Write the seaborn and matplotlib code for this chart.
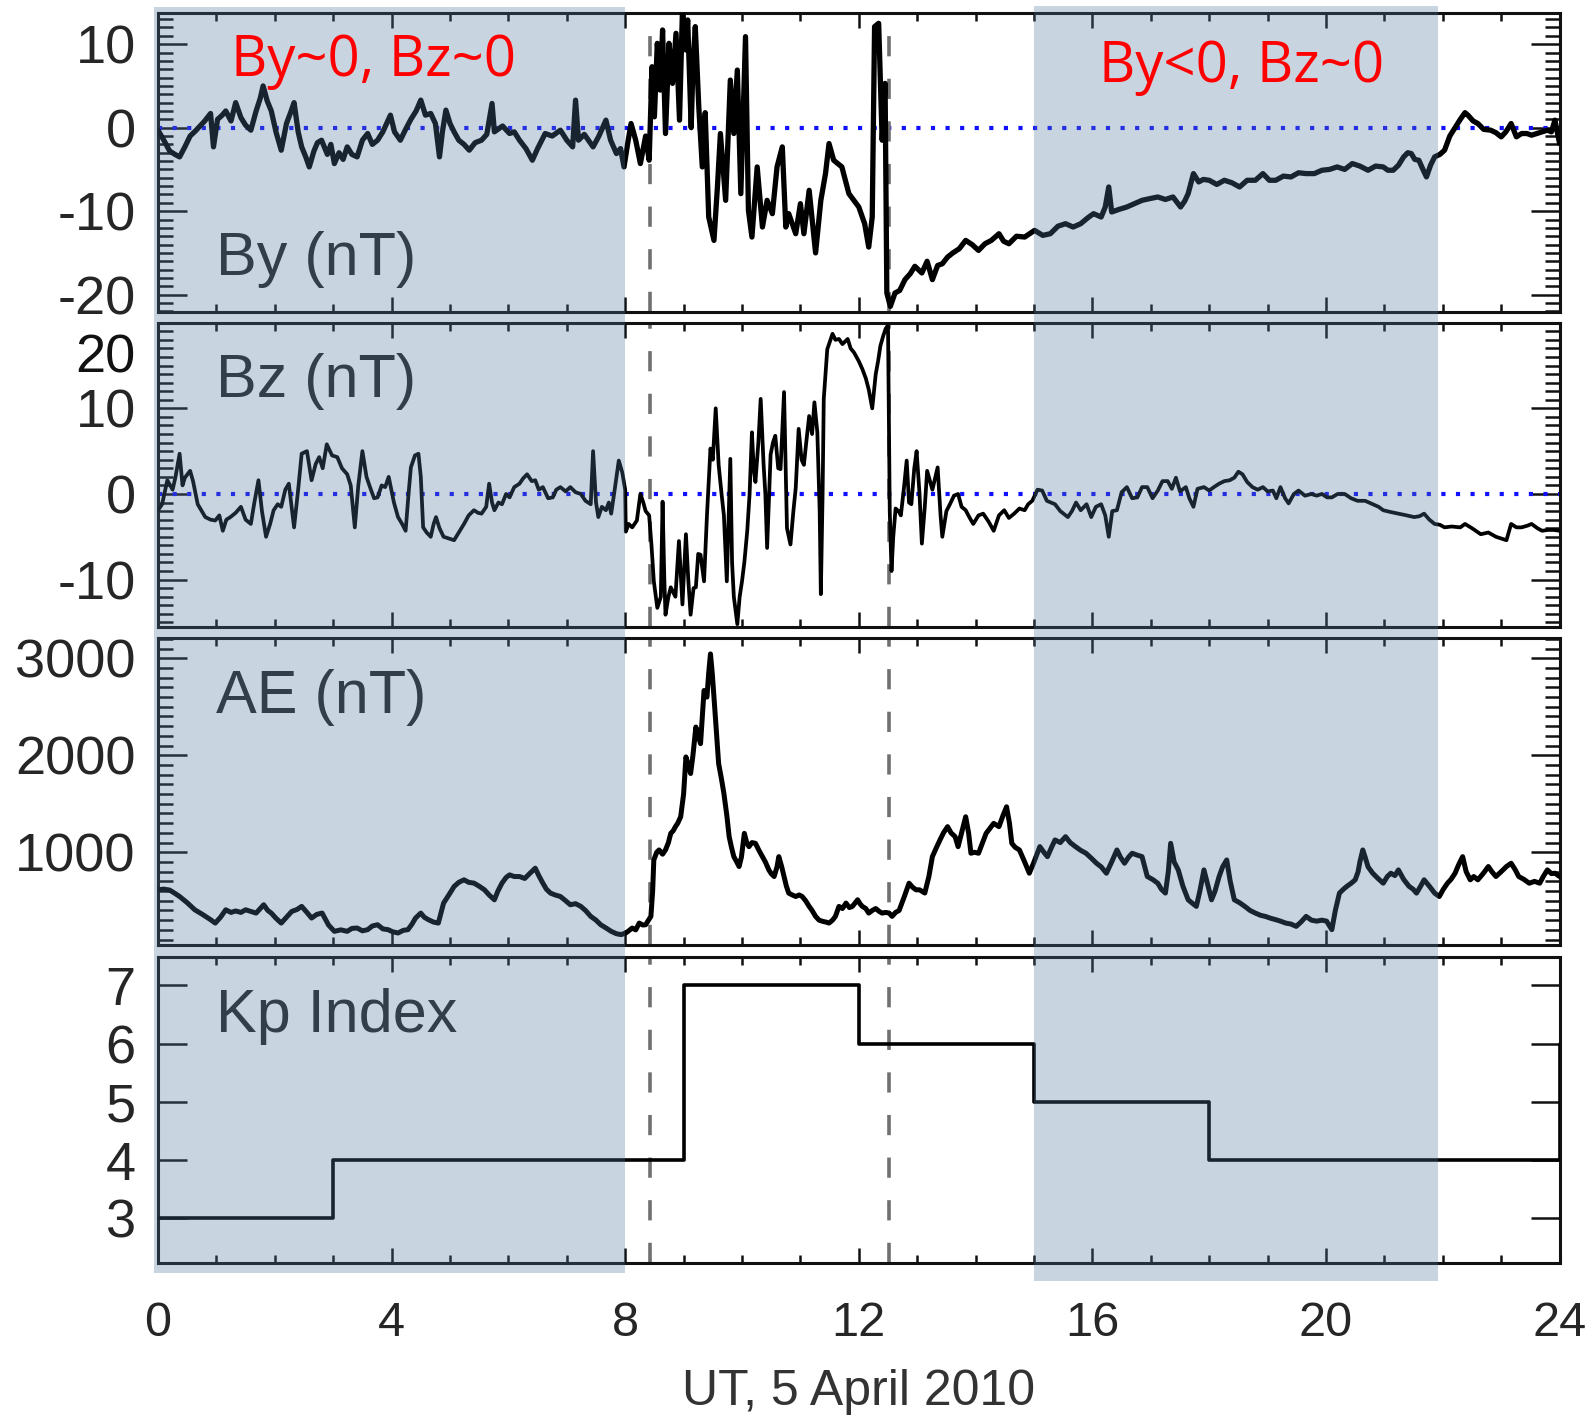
import numpy as np
import pandas as pd
import matplotlib
matplotlib.use("Agg")
import matplotlib.pyplot as plt
import seaborn as sns
from matplotlib.ticker import MultipleLocator, FixedLocator
from matplotlib.patches import Rectangle
from matplotlib.transforms import blended_transform_factory

# ---------------- data ----------------
by_t = [0.0,0.1,0.2,0.29,0.37,0.46,0.55,0.64,0.72,0.8,0.9,0.95,1.02,1.1,1.16,1.25,1.33,1.42,1.5,1.59,
        1.68,1.75,1.8,1.87,1.94,2.02,2.11,2.2,2.27,2.33,2.4,2.46,2.53,2.59,2.67,2.73,2.8,2.9,2.96,3.02,
        3.1,3.17,3.24,3.32,3.41,3.5,3.59,3.67,3.76,3.85,3.98,4.05,4.15,4.24,4.33,4.42,4.5,4.58,4.67,4.75,
        4.82,4.87,4.93,5.0,5.07,5.15,5.24,5.33,5.43,5.54,5.63,5.72,5.76,5.8,5.9,6.02,6.1,6.19,6.3,6.41,
        6.5,6.63,6.75,6.89,7.0,7.1,7.15,7.2,7.3,7.45,7.55,7.67,7.75,7.85,7.92,7.98,
        8.04,8.1,8.18,8.26,8.35,8.41,8.46,8.5,8.55,8.6,8.64,8.69,8.75,8.81,8.87,8.93,8.98,9.04,9.07,9.13,
        9.16,9.2,9.26,9.32,9.37,9.43,9.52,9.58,9.63,9.72,9.8,9.86,9.92,9.98,10.06,10.11,10.17,10.26,10.35,10.43,
        10.52,10.6,10.69,10.75,10.8,10.92,11.0,11.06,11.15,11.26,11.35,11.43,11.49,11.57,11.71,11.83,12.0,12.1,12.17,12.23,
        12.27,12.34,12.4,12.45,12.48,12.54,12.62,12.7,12.79,12.88,12.96,
        13.08,13.17,13.26,13.35,13.43,13.52,13.61,13.72,13.83,13.94,14.05,14.16,14.27,14.4,14.48,14.57,14.7,14.84,15.01,15.15,
        15.28,15.41,15.54,15.67,15.8,15.92,16.02,16.15,16.22,16.28,16.33,16.45,16.59,16.72,16.85,16.98,17.12,17.25,17.38,17.51,
        17.58,17.64,17.73,17.82,17.9,18.0,18.13,18.26,18.39,18.52,18.65,18.79,18.92,19.03,19.14,19.27,19.4,19.53,19.66,19.8,
        19.93,20.06,20.19,20.32,20.45,20.58,20.72,20.85,20.98,21.06,21.15,21.24,21.33,21.4,21.46,21.52,21.59,21.66,21.72,21.79,
        21.86,21.95,22.03,22.12,22.21,22.3,22.38,22.43,22.52,22.6,22.7,22.82,22.91,23.0,23.08,23.17,23.22,23.26,23.35,23.44,
        23.52,23.61,23.7,23.79,23.86,23.92,24.0]
by_v = [-0.3,-1.5,-2.8,-3.2,-3.5,-2.3,-1.0,-0.4,0.2,0.8,1.7,-2.3,1.0,1.5,2.0,0.8,3.0,1.2,0.3,-0.3,
        2.0,3.5,5.0,3.2,2.0,-0.5,-2.7,0.5,1.8,3.0,-0.5,-2.3,-3.5,-4.7,-2.8,-1.8,-1.5,-3.2,-2.0,-4.3,
        -3.0,-3.8,-2.3,-3.2,-3.5,-1.5,-0.7,-2.0,-1.5,-0.5,1.5,-0.5,-1.5,-0.2,1.0,2.0,3.3,1.5,1.7,0.5,
        -3.5,-0.5,2.1,0.5,-0.5,-1.5,-2.0,-2.7,-1.8,-1.5,-0.8,2.9,-0.5,-0.3,0.2,-0.7,-0.5,-1.5,-2.5,-3.9,
        -2.5,-0.7,-1.0,-0.3,-1.5,-2.3,3.3,-1.5,-0.8,-2.3,-1.0,0.9,-1.5,-3.1,-2.5,-4.7,
        -2.0,0.5,-1.5,-4.3,-1.0,-3.9,7.3,1.3,10.1,4.5,11.7,-0.7,10.1,5.3,11.3,0.9,14.0,9.3,12.9,0.0,
        7.3,12.1,2.5,-4.7,1.8,-10.7,-13.5,-7.0,-0.7,-8.7,5.7,-0.7,6.9,-7.9,10.9,-9.9,-13.1,-4.7,-11.9,-8.7,
        -10.3,-4.7,-2.3,-11.9,-10.3,-12.7,-9.1,-12.7,-7.5,-15.0,-8.7,-5.5,-1.9,-3.9,-4.7,-7.9,-9.5,-11.5,-14.3,-10.7,
        12.1,12.5,-1.5,5.3,-19.8,-21.4,-19.8,-19.5,-18.2,-17.5,-16.6,
        -17.4,-16.0,-18.2,-16.5,-16.3,-15.5,-15.0,-14.5,-13.5,-14.0,-14.7,-13.9,-13.5,-12.7,-13.6,-13.9,-13.0,-13.1,-12.3,-12.9,
        -12.7,-11.8,-11.5,-11.9,-11.5,-10.8,-10.3,-10.7,-9.5,-7.1,-10.1,-9.8,-9.5,-9.1,-8.7,-8.5,-8.3,-8.6,-8.3,-9.5,
        -8.8,-7.9,-5.5,-6.5,-6.2,-6.3,-6.8,-6.3,-6.6,-7.1,-6.3,-6.3,-5.5,-6.3,-6.3,-5.8,-5.9,-5.4,-5.5,-5.5,
        -5.1,-5.0,-4.7,-5.0,-4.3,-4.6,-5.1,-4.6,-4.7,-5.1,-5.1,-4.5,-3.5,-3.0,-3.1,-3.8,-3.9,-5.0,-5.9,-4.5,
        -3.5,-3.2,-2.7,-1.0,0.0,1.0,1.8,1.5,0.8,0.5,-0.2,-0.3,-0.6,-1.1,-0.5,0.5,-0.4,-1.1,-0.7,-0.7,
        -0.9,-0.7,-0.5,-0.3,-0.5,0.9,-1.9]

bz_t = [0.0,0.07,0.16,0.25,0.3,0.37,0.42,0.46,0.55,0.6,0.68,0.75,0.81,0.9,0.98,1.05,1.11,1.17,1.24,1.33,
        1.42,1.5,1.59,1.65,1.72,1.78,1.85,1.92,1.98,2.05,2.11,2.18,2.24,2.33,2.4,2.46,2.55,2.63,2.7,2.76,
        2.82,2.89,2.98,3.07,3.15,3.24,3.3,3.37,3.43,3.5,3.57,3.63,3.7,3.76,3.83,3.89,3.95,4.04,4.11,4.18,
        4.24,4.29,4.33,4.4,4.46,4.5,4.54,4.6,4.67,4.72,4.76,4.82,4.89,4.98,5.07,5.15,5.24,5.32,5.41,5.48,
        5.54,5.62,5.67,5.72,5.76,5.83,5.89,5.96,6.02,6.1,6.19,6.25,6.32,6.4,6.46,6.52,6.59,6.68,6.76,6.82,
        6.89,6.98,7.06,7.15,7.24,7.32,7.41,7.45,7.5,7.54,7.6,7.67,7.72,7.76,7.82,7.89,7.95,8.0,
        8.01,8.06,8.12,8.2,8.26,8.31,8.35,8.41,8.45,8.49,8.55,8.61,8.64,8.67,8.69,8.74,8.78,8.86,8.92,8.98,
        9.04,9.08,9.12,9.17,9.21,9.25,9.29,9.35,9.4,9.46,9.5,9.55,9.6,9.65,9.69,9.74,9.77,9.8,9.83,9.86,
        9.92,9.96,10.0,10.04,10.09,10.13,10.17,10.2,10.23,10.28,10.32,10.37,10.4,10.43,10.49,10.53,10.57,10.62,10.66,10.72,
        10.75,10.77,10.83,10.88,10.92,10.97,11.02,11.06,11.1,11.15,11.2,11.24,11.29,11.33,11.35,11.38,11.4,11.46,11.55,11.6,
        11.66,11.72,11.81,11.86,11.92,12.0,12.06,12.12,12.17,12.23,12.29,12.33,12.37,12.42,12.46,12.5,12.53,12.56,12.59,12.63,
        12.68,12.72,12.77,12.82,12.86,12.9,12.95,12.99,13.04,13.08,13.13,13.17,13.26,13.35,13.4,13.43,13.5,13.56,13.63,13.7,
        13.76,13.83,13.9,13.96,14.05,14.13,14.22,14.31,14.4,14.49,14.57,14.66,14.75,14.84,14.9,14.97,15.06,15.14,15.22,15.36,
        15.45,15.58,15.65,15.72,15.8,15.9,15.98,16.06,16.15,16.22,16.28,16.34,16.42,16.5,16.59,16.68,16.77,16.85,16.94,17.03,
        17.12,17.2,17.29,17.36,17.43,17.5,17.6,17.66,17.73,17.8,17.91,18.0,18.08,18.17,18.26,18.35,18.43,18.5,18.57,18.65,
        18.74,18.83,18.92,19.0,19.09,19.15,19.22,19.3,19.36,19.45,19.53,19.64,19.75,19.84,19.93,20.02,20.1,20.2,20.32,20.43,
        20.54,20.67,20.8,20.9,20.98,21.1,21.24,21.38,21.51,21.6,21.68,21.77,21.86,21.95,22.03,22.15,22.3,22.38,22.5,22.65,
        22.78,22.91,23.0,23.09,23.17,23.26,23.35,23.45,23.52,23.62,23.7,23.8,23.9,24.0]
bz_v = [-1.9,-1.2,1.6,0.5,2.0,4.7,1.0,1.9,2.7,1.5,-1.2,-2.0,-2.7,-3.0,-3.1,-2.5,-4.3,-3.0,-2.7,-2.2,
        -1.5,-3.0,-3.5,-1.0,1.6,-2.0,-5.0,-3.5,-1.9,-1.2,-1.5,0.5,1.2,-3.9,0.5,4.7,5.0,1.6,3.5,4.3,
        3.0,5.8,4.5,4.3,3.0,2.3,1.0,-3.9,1.0,5.0,2.0,0.8,-0.5,-0.4,1.0,0.8,2.0,-1.0,-2.7,-3.5,
        -4.3,0.0,3.1,4.5,4.7,2.0,-3.9,-4.5,-5.0,-3.5,-2.7,-4.0,-5.0,-5.2,-5.4,-4.5,-3.5,-2.5,-1.9,-2.2,
        -2.3,-1.5,1.2,-1.0,-1.9,-1.0,-1.2,0.0,-0.4,0.8,1.2,1.8,2.3,1.5,1.6,0.5,0.8,-0.5,-0.4,0.5,
        0.8,0.3,0.8,0.2,0.0,-0.8,-1.2,5.0,-1.0,-2.7,-1.5,-1.9,-1.0,-2.3,0.5,3.9,2.5,0.5,
        -4.4,-3.5,-3.9,-3.1,0.0,-1.0,-2.0,-2.5,-6.0,-10.2,-13.3,-12.0,-0.9,-10.0,-14.1,-12.0,-10.9,-12.0,-5.5,-12.9,
        -4.7,-10.0,-14.1,-11.0,-10.9,-7.0,-7.1,-10.2,-2.5,5.3,4.0,10.0,3.4,0.0,-2.5,-10.2,-3.0,4.1,-8.0,-12.0,
        -15.2,-12.0,-10.2,-8.0,-4.3,0.0,7.2,3.0,1.4,6.0,11.1,3.4,0.0,-6.3,4.6,6.0,6.8,3.0,2.9,11.9,
        2.0,-4.0,-5.9,-2.0,0.7,7.6,4.0,3.4,6.0,9.1,7.0,10.7,7.2,-2.0,-11.7,0.0,11.1,16.9,18.7,18.0,
        18.1,17.5,18.1,17.0,16.5,15.5,14.6,13.5,12.2,10.0,14.0,15.5,17.3,18.5,19.3,19.7,-2.0,-9.0,-5.0,-1.7,
        -2.0,-2.5,0.5,3.9,-1.0,-1.2,3.0,5.0,0.0,-5.8,-1.5,2.7,0.5,3.1,-2.5,-5.0,-2.0,-1.2,-0.2,0.0,
        -1.5,-1.9,-2.8,-3.5,-2.5,-2.3,-3.2,-4.3,-2.5,-1.9,-2.8,-2.3,-1.7,-1.9,-1.2,-0.8,0.5,0.4,-0.8,-1.2,
        -2.0,-2.7,-2.0,-1.0,-1.9,-1.2,-2.7,-1.5,-1.2,-2.5,-5.0,-2.0,-1.9,0.2,0.8,-0.5,-0.4,0.8,0.8,-0.5,
        0.4,1.5,1.5,0.6,1.9,0.3,0.8,-0.5,-1.5,0.6,0.8,0.4,0.8,1.2,1.5,1.6,1.9,2.6,2.3,1.4,
        0.8,0.5,0.8,0.3,0.4,-0.5,0.8,-0.5,-1.1,0.0,0.4,-0.2,0.0,-0.2,0.0,-0.4,-0.4,0.0,0.0,-0.5,
        -0.8,-0.8,-1.2,-1.5,-1.9,-2.1,-2.3,-2.5,-2.7,-2.6,-2.3,-3.0,-3.5,-3.6,-3.9,-3.8,-3.9,-3.5,-4.0,-4.7,
        -4.5,-5.0,-5.2,-5.4,-3.5,-3.9,-3.9,-3.7,-3.5,-4.0,-4.3,-4.2,-4.2,-4.3]

ae_t = [0.0,0.1,0.2,0.28,0.37,0.5,0.63,0.76,0.9,0.98,1.07,1.16,1.25,1.33,1.42,1.5,1.59,1.68,1.75,1.81,
        1.88,1.94,2.02,2.11,2.2,2.29,2.38,2.46,2.55,2.63,2.72,2.81,2.92,3.02,3.13,3.24,3.32,3.41,3.5,3.59,
        3.67,3.76,3.85,3.94,4.02,4.11,4.2,4.28,4.35,4.41,4.5,4.56,4.63,4.72,4.8,4.89,4.98,5.07,5.15,5.24,
        5.32,5.41,5.5,5.59,5.67,5.76,5.82,5.89,5.96,6.02,6.1,6.19,6.28,6.37,6.46,6.52,6.59,6.65,6.72,6.8,
        6.89,6.98,7.06,7.15,7.24,7.32,7.41,7.5,7.58,7.67,7.76,7.85,7.93,8.01,8.06,8.12,8.18,8.24,8.3,8.35,
        8.4,8.44,8.47,8.49,8.54,8.58,8.64,8.69,8.74,8.78,8.82,8.86,8.9,8.95,9.0,9.04,9.08,9.12,9.16,9.21,
        9.25,9.29,9.32,9.35,9.4,9.43,9.46,9.49,9.52,9.56,9.6,9.65,9.69,9.74,9.78,9.82,9.86,9.91,9.95,9.99,
        10.04,10.08,10.12,10.17,10.23,10.29,10.35,10.4,10.46,10.5,10.55,10.6,10.63,10.68,10.72,10.76,10.8,10.86,10.92,10.98,
        11.03,11.09,11.15,11.2,11.26,11.32,11.38,11.44,11.49,11.55,11.6,11.66,11.72,11.78,11.84,11.89,11.94,11.98,12.02,12.06,
        12.12,12.17,12.23,12.29,12.35,12.4,12.46,12.52,12.57,12.63,12.69,12.78,12.86,12.92,12.98,13.04,13.13,13.2,13.26,13.33,
        13.39,13.45,13.52,13.58,13.65,13.7,13.76,13.83,13.88,13.92,13.98,14.05,14.12,14.18,14.25,14.31,14.4,14.47,14.53,14.58,
        14.62,14.68,14.75,14.84,14.92,15.0,15.1,15.17,15.23,15.3,15.36,15.45,15.54,15.62,15.71,15.8,15.89,15.98,16.07,16.15,
        16.24,16.33,16.42,16.48,16.55,16.62,16.68,16.77,16.85,16.94,17.03,17.12,17.18,17.25,17.3,17.34,17.4,17.47,17.55,17.64,
        17.7,17.78,17.84,17.91,17.98,18.04,18.1,18.17,18.23,18.3,18.36,18.43,18.52,18.61,18.7,18.79,18.88,18.96,19.05,19.14,
        19.22,19.31,19.4,19.49,19.57,19.66,19.75,19.84,19.93,20.01,20.05,20.1,20.16,20.23,20.3,20.36,20.43,20.5,20.55,20.58,
        20.63,20.67,20.72,20.8,20.89,20.98,21.05,21.11,21.18,21.24,21.33,21.42,21.49,21.55,21.62,21.68,21.77,21.86,21.94,22.01,
        22.08,22.14,22.21,22.27,22.34,22.4,22.47,22.53,22.6,22.69,22.78,22.84,22.91,23.0,23.09,23.17,23.24,23.3,23.39,23.48,
        23.57,23.66,23.72,23.79,23.86,23.92,24.0]
ae_v = [613,620,610,580,544,480,407,360,305,270,330,407,380,395,380,407,390,373,420,459,
        400,373,320,270,330,390,410,442,380,322,360,373,250,185,200,185,215,219,190,202,
        240,253,210,202,180,168,195,202,260,322,373,330,305,280,270,476,560,647,690,716,
        690,682,650,613,560,510,600,682,740,767,750,750,730,784,836,760,682,620,579,560,
        544,500,459,470,442,400,339,300,253,220,185,160,151,168,190,219,200,270,250,253,
        300,339,600,921,1000,1024,980,1024,1100,1195,1220,1264,1300,1366,1600,1983,1900,1812,2000,2291,
        2200,2120,2400,2668,2600,2850,3045,2850,2600,2250,1914,1750,1606,1380,1161,1050,955,900,853,950,
        1195,1100,1058,1100,1092,1020,955,900,818,780,750,850,955,850,750,650,579,560,544,560,
        544,500,442,400,339,300,288,280,270,300,339,442,420,476,430,442,480,510,470,442,
        420,373,400,420,390,373,380,373,339,380,400,544,681,640,613,613,580,750,955,1050,
        1127,1200,1264,1200,1160,1058,1200,1366,1200,990,1000,990,1100,1195,1250,1298,1264,1380,1469,1300,
        1092,1050,1024,900,784,900,1058,1000,955,1050,1127,1100,1161,1100,1058,1020,990,940,887,850,
        784,900,1024,950,887,950,990,970,955,750,720,681,620,579,800,1092,900,818,650,510,
        480,442,600,818,650,510,600,750,850,921,700,510,480,442,400,373,350,339,320,305,
        290,270,260,236,280,339,300,290,300,290,250,202,400,579,620,650,680,716,800,900,
        1024,950,850,784,730,681,750,784,760,818,720,650,620,579,650,716,650,579,544,620,
        681,720,784,870,955,800,716,750,716,780,853,800,750,800,853,887,820,750,720,681,
        700,681,750,818,780,784,750]

kp_t = [0, 3, 9, 12, 15, 18, 24]
kp_v = [3, 4, 7, 6, 5, 4, 6]

shade_spans = [(-0.07, 8.0), (15.0, 21.92)]
event_times = [8.43, 12.52]
panel_labels = ["By (nT)", "Bz (nT)", "AE (nT)", "Kp Index"]
annotations = ["By~0, Bz~0", "By<0, Bz~0"]
xlabel = "UT, 5 April 2010"

# ---------------- style ----------------
sns.set_theme(style="ticks")
plt.rcParams["font.family"] = ["Liberation Sans", "DejaVu Sans"]
plt.rcParams["axes.linewidth"] = 2.2
plt.rcParams["axes.unicode_minus"] = False
plt.rcParams["text.color"] = "#111111"

W, H = 1593, 1418
fig = plt.figure(figsize=(W / 100, H / 100), dpi=100)
fig.patch.set_facecolor("white")

left_px, right_px = 158.0, 1559.6
panels_px = [(12.7, 311.7), (322.7, 626.7), (638.0, 945.0), (957.3, 1263.3)]
axes = []
for top, bot in panels_px:
    ax = fig.add_axes([left_px / W, 1 - bot / H, (right_px - left_px) / W, (bot - top) / H])
    ax.set_facecolor("white")
    axes.append(ax)
ax_by, ax_bz, ax_ae, ax_kp = axes

df_by = pd.DataFrame({"t": by_t, "v": by_v})
df_bz = pd.DataFrame({"t": bz_t, "v": bz_v})
df_ae = pd.DataFrame({"t": ae_t, "v": ae_v})
df_kp = pd.DataFrame({"t": kp_t, "v": kp_v})

for ax in (ax_by, ax_bz):
    ax.axhline(0, color="#1010ff", linewidth=3.0, linestyle=(0, (1.0, 2.5)), zorder=2)

sns.lineplot(data=df_by, x="t", y="v", ax=ax_by, color="black", linewidth=3.8,
             estimator=None, sort=False, legend=False, zorder=3)
sns.lineplot(data=df_bz, x="t", y="v", ax=ax_bz, color="black", linewidth=2.7,
             estimator=None, sort=False, legend=False, zorder=3)
sns.lineplot(data=df_ae, x="t", y="v", ax=ax_ae, color="black", linewidth=3.6,
             estimator=None, sort=False, legend=False, zorder=3)
sns.lineplot(data=df_kp, x="t", y="v", ax=ax_kp, color="black", linewidth=2.6,
             estimator=None, sort=False, legend=False, drawstyle="steps-post", zorder=3)

for ax in axes:
    for et in event_times:
        ax.axvline(et, color="#707070", linewidth=2.6, linestyle=(0, (5.6, 6.2)), zorder=2)

ylims = [(-22.04, 13.77), (-15.5, 20.0), (44, 3209), (2.23, 7.48)]
ymaj = [[-20, -10, 0, 10], [-10, 0, 10, 20], [1000, 2000, 3000], [3, 4, 5, 6, 7]]
ymin = [1, 1, 100, None]

for i, ax in enumerate(axes):
    ax.set_xlim(0, 24)
    ax.set_ylim(*ylims[i])
    ax.xaxis.set_major_locator(MultipleLocator(4))
    ax.xaxis.set_minor_locator(MultipleLocator(1))
    ax.yaxis.set_major_locator(FixedLocator(ymaj[i]))
    if ymin[i] is not None:
        ax.yaxis.set_minor_locator(MultipleLocator(ymin[i]))
    ax.set_xlabel("")
    ax.set_ylabel("")
    for s in ax.spines.values():
        s.set_visible(True)
        s.set_linewidth(2.2)
        s.set_color("#111111")
    ax.tick_params(which="both", direction="in", top=True, right=True,
                   width=1.8, color="#111111")
    ax.tick_params(axis="x", which="major", length=11)
    ax.tick_params(axis="x", which="minor", length=5.5)
    ax.tick_params(axis="y", which="major", length=21, labelsize=39, pad=16)
    ax.tick_params(axis="y", which="minor", length=10.5)
    if ax is not ax_kp:
        ax.tick_params(axis="x", labelbottom=False)
    else:
        ax.tick_params(axis="x", labelsize=35, pad=27)

# Bz: the "20" label sits below its tick in the reference
ax_bz.set_yticklabels(["-10", "0", "10", ""])
ax_bz.text(-16 / 72 * 100 / (right_px - left_px), 16.5, "20", fontsize=39,
           ha="right", va="center_baseline",
           transform=blended_transform_factory(ax_bz.transAxes, ax_bz.transData))

# panel labels
label_baselines = [275, 397, 713, 1032]
for lab, yb in zip(panel_labels, label_baselines):
    fig.text(216 / W, 1 - yb / H, lab, fontsize=44, color="#262626", va="baseline", ha="left")

# x label
fig.text(859 / W, 1 - 1405 / H, xlabel, fontsize=36, color="#333333", ha="center", va="baseline")

# shaded intervals (semi-transparent overlay spanning all panels)
btr = blended_transform_factory(ax_kp.transData, fig.transFigure)
shade_y = [(1 - 1272.7 / H, 1 - 6.7 / H), (1 - 1281 / H, 1 - 6.0 / H)]
for (x0, x1), (y0, y1) in zip(shade_spans, shade_y):
    fig.add_artist(Rectangle((x0, y0), x1 - x0, y1 - y0, transform=btr,
                             facecolor="#53769f", alpha=0.31, edgecolor="none", zorder=5))

# red annotations
fig.text(231 / W, 1 - 76 / H, annotations[0], fontsize=40.5, color="#ff0000",
         family=["Open Sans", "DejaVu Sans"], va="baseline", ha="left", zorder=6)
fig.text(1099 / W, 1 - 82 / H, annotations[1], fontsize=40.5, color="#ff0000",
         family=["Open Sans", "DejaVu Sans"], va="baseline", ha="left", zorder=6)

fig.savefig("out.png", dpi=100)
